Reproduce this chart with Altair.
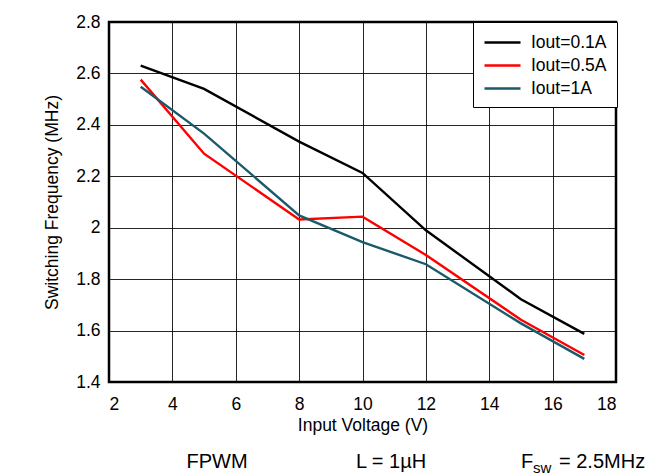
import altair as alt
import pandas as pd

vin = [3, 5, 8, 10, 12, 15, 17]
f_01 = [2.63, 2.54, 2.335, 2.213, 1.99, 1.722, 1.587]
f_05 = [2.576, 2.288, 2.032, 2.043, 1.894, 1.642, 1.505]
f_1 = [2.548, 2.366, 2.048, 1.944, 1.858, 1.628, 1.49]
series = ["Iout=0.1A", "Iout=0.5A", "Iout=1A"]
colors = ["#000000", "#ff0000", "#1b5a6b"]
x_ticks = [2, 4, 6, 8, 10, 12, 14, 16, 18]
y_ticks = [1.4, 1.6, 1.8, 2.0, 2.2, 2.4, 2.6, 2.8]

rows = []
for name, vals in zip(series, [f_01, f_05, f_1]):
    for v, f in zip(vin, vals):
        rows.append({"Vin": v, "Fsw": f, "Series": name})
df = pd.DataFrame(rows)

FONT = "Liberation Sans"
LAB = 17.5
TIT = 17.5

lines = alt.Chart(df).mark_line(strokeWidth=2.4).encode(
    x=alt.X("Vin:Q", scale=alt.Scale(domain=[2, 18], nice=False),
            axis=alt.Axis(values=x_ticks, title="Input Voltage (V)",
                          labelPadding=13, titlePadding=4, ticks=False,
                          labelFontSize=LAB, titleFontSize=TIT,
                          labelFont=FONT, titleFont=FONT,
                          labelColor="#000", titleColor="#000",
                          titleFontWeight="normal",
                          gridColor="#000", gridOpacity=0.85, gridWidth=1,
                          domain=False)),
    y=alt.Y("Fsw:Q", scale=alt.Scale(domain=[1.4, 2.8], nice=False, zero=False),
            axis=alt.Axis(values=y_ticks, title="Switching Frequency (MHz)",
                          labelExpr="format(datum.value, '.1~f')",
                          labelPadding=9, titlePadding=14, ticks=False,
                          labelFontSize=LAB, titleFontSize=TIT,
                          labelFont=FONT, titleFont=FONT,
                          labelColor="#000", titleColor="#000",
                          titleFontWeight="normal",
                          gridColor="#000", gridOpacity=0.85, gridWidth=1,
                          domain=False)),
    color=alt.Color("Series:N",
                    scale=alt.Scale(domain=series, range=colors),
                    legend=alt.Legend(title=None, orient="none",
                                      legendX=364, legendY=0,
                                      symbolType="M -1 0 L 3 0", symbolSize=324,
                                      symbolStrokeWidth=2.4,
                                      labelFontSize=17.5, labelFont=FONT,
                                      labelColor="#000",
                                      fillColor="white", strokeColor="#000",
                                      padding=10, rowPadding=4,
                                      labelOffset=27, offset=0)),
)

note_txt = ["FPWM", "L = 1\u00b5H"]
note_px = [108, 282]
notes = [
    alt.Chart(pd.DataFrame({"txt": [t]})).mark_text(
        fontSize=20, font=FONT, color="#000", align="center", baseline="alphabetic"
    ).encode(text="txt:N", x=alt.value(px), y=alt.value(446))
    for t, px in zip(note_txt, note_px)
]

f_main = alt.Chart(pd.DataFrame({"txt": ["F"]})).mark_text(
    fontSize=20, font=FONT, color="#000", align="left", baseline="alphabetic"
).encode(text="txt:N", x=alt.value(412), y=alt.value(446))
f_sub = alt.Chart(pd.DataFrame({"txt": ["sw"]})).mark_text(
    fontSize=15, font=FONT, color="#000", align="left", baseline="alphabetic"
).encode(text="txt:N", x=alt.value(424), y=alt.value(451))
f_rest = alt.Chart(pd.DataFrame({"txt": ["= 2.5MHz"]})).mark_text(
    fontSize=20, font=FONT, color="#000", align="left", baseline="alphabetic"
).encode(text="txt:N", x=alt.value(450), y=alt.value(446))

chart = alt.layer(lines, *notes, f_main, f_sub, f_rest).properties(
    width=507, height=360,
    autosize=alt.AutoSizeParams(type="none"),
    padding={"left": 101, "top": 14, "right": 31, "bottom": 95},
    background="white",
).configure_view(stroke="#000", strokeWidth=2.5)

chart.save("out.html", embed_options={"renderer": "svg", "actions": False})
